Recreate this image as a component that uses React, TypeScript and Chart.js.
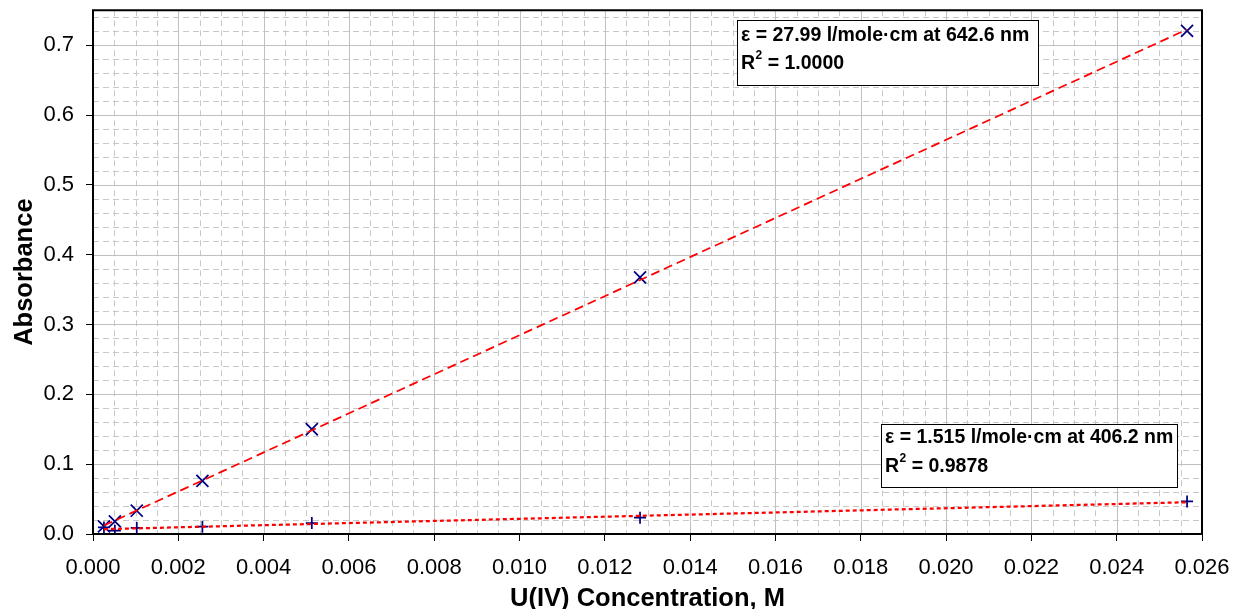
import React, { useEffect, useRef } from "react";
import { Chart, registerables } from "chart.js";

Chart.register(...registerables);

// ---- data ----
const concentrations = [0.0002565, 0.000513, 0.001026, 0.002565, 0.00513, 0.012825, 0.02565];
const absorbance642 = [0.0109, 0.018, 0.0333, 0.0761, 0.15, 0.3676, 0.7204];
const absorbance406 = [0.0094, 0.0047, 0.0086, 0.0104, 0.0157, 0.0233, 0.0466];

const xTitle = "U(IV) Concentration, M";
const yTitle = "Absorbance";
const label642 = "ε = 27.99 l/mole·cm at 642.6 nm";
const r2of642 = " = 1.0000";
const label406 = "ε = 1.515 l/mole·cm at 406.2 nm";
const r2of406 = " = 0.9878";

const FONT = "'Liberation Sans', Arial, sans-serif";

// least-squares trend line (as the spreadsheet's linear trendline)
function trendLine(xs: number[], ys: number[]) {
  const n = xs.length;
  const mx = xs.reduce((a, b) => a + b, 0) / n;
  const my = ys.reduce((a, b) => a + b, 0) / n;
  let sxy = 0;
  let sxx = 0;
  for (let i = 0; i < n; i++) {
    sxy += (xs[i] - mx) * (ys[i] - my);
    sxx += (xs[i] - mx) * (xs[i] - mx);
  }
  const slope = sxy / sxx;
  const icpt = my - slope * mx;
  return [
    { x: xs[0], y: icpt + slope * xs[0] },
    { x: xs[n - 1], y: icpt + slope * xs[n - 1] },
  ];
}

function drawBox(ctx: CanvasRenderingContext2D, left: number, top: number, w: number, h: number, line1: string, r2: string, b1: number, b2: number) {
  ctx.save();
  ctx.fillStyle = "#ffffff";
  ctx.fillRect(left, top, w, h);
  ctx.strokeStyle = "#000000";
  ctx.lineWidth = 1;
  ctx.setLineDash([]);
  ctx.strokeRect(left + 0.5, top + 0.5, w, h);
  ctx.fillStyle = "#000000";
  ctx.textAlign = "left";
  ctx.textBaseline = "alphabetic";
  ctx.font = `bold 19.5px ${FONT}`;
  const tx = left + 4;
  ctx.fillText(line1, tx, b1);
  ctx.fillText("R", tx, b2);
  const rw = ctx.measureText("R").width;
  ctx.font = `bold 12px ${FONT}`;
  ctx.fillText("2", tx + rw + 0.5, b2 - 10);
  const sw = ctx.measureText("2").width;
  ctx.font = `bold 19.5px ${FONT}`;
  ctx.fillText(r2, tx + rw + sw + 0.5, b2);
  ctx.restore();
}

const decorPlugin = {
  id: "decor",
  beforeDatasetsDraw(chart: any) {
    const { ctx, chartArea: ca, scales } = chart;
    const xs = scales.x;
    const ys = scales.y;
    ctx.save();
    ctx.beginPath();
    ctx.rect(ca.left, ca.top, ca.right - ca.left, ca.bottom - ca.top);
    ctx.clip();
    ctx.lineWidth = 1;
    // minor grid
    ctx.strokeStyle = "#c8c8c8";
    ctx.setLineDash([6, 4]);
    ctx.beginPath();
    for (let i = 1; i < 52; i++) {
      if (i % 4 === 0) continue;
      const px = Math.round(xs.getPixelForValue(i * 0.0005)) + 0.5;
      ctx.moveTo(px, ca.top);
      ctx.lineTo(px, ca.bottom);
    }
    for (let j = 1; j <= 37; j++) {
      if (j % 5 === 0) continue;
      const py = Math.round(ys.getPixelForValue(j * 0.02)) + 0.5;
      ctx.moveTo(ca.left, py);
      ctx.lineTo(ca.right, py);
    }
    ctx.stroke();
    // major grid
    ctx.setLineDash([]);
    ctx.strokeStyle = "#c0c0c0";
    ctx.beginPath();
    for (let i = 1; i < 13; i++) {
      const px = Math.round(xs.getPixelForValue(i * 0.002)) + 0.5;
      ctx.moveTo(px, ca.top);
      ctx.lineTo(px, ca.bottom);
    }
    for (let j = 1; j <= 7; j++) {
      const py = Math.round(ys.getPixelForValue(j * 0.1)) + 0.5;
      ctx.moveTo(ca.left, py);
      ctx.lineTo(ca.right, py);
    }
    ctx.stroke();
    ctx.restore();
  },
  afterDatasetsDraw(chart: any) {
    const { ctx, chartArea: ca } = chart;
    drawBox(ctx, 737, 20, 301, 65, label642, r2of642, 41, 69);
    drawBox(ctx, 881, 424, 296, 63, label406, r2of406, 443, 472);
    ctx.save();
    ctx.strokeStyle = "#000000";
    ctx.lineWidth = 2;
    ctx.setLineDash([]);
    ctx.strokeRect(ca.left, ca.top, ca.right - ca.left, ca.bottom - ca.top);
    ctx.restore();
  },
  afterDraw(chart: any) {
    const { ctx, chartArea: ca } = chart;
    ctx.save();
    ctx.fillStyle = "#000000";
    ctx.font = `bold 25.5px ${FONT}`;
    ctx.textAlign = "center";
    ctx.textBaseline = "alphabetic";
    ctx.fillText(xTitle, (ca.left + ca.right) / 2, 606);
    ctx.translate(32, (ca.top + ca.bottom) / 2);
    ctx.rotate(-Math.PI / 2);
    ctx.fillText(yTitle, 0, 0);
    ctx.restore();
  },
};

export default function App() {
  const canvasRef = useRef<HTMLCanvasElement | null>(null);

  useEffect(() => {
    document.body.style.margin = "0";
    const canvas = canvasRef.current;
    if (!canvas) return;
    const pts642 = concentrations.map((c, i) => ({ x: c, y: absorbance642[i] }));
    const pts406 = concentrations.map((c, i) => ({ x: c, y: absorbance406[i] }));
    const chart = new Chart(canvas, {
      type: "scatter",
      data: {
        datasets: [
          {
            label: "Trend 642.6 nm",
            data: trendLine(concentrations, absorbance642),
            showLine: true,
            borderColor: "#ff0000",
            borderWidth: 1.75,
            borderDash: [9, 5],
            pointRadius: 0,
            fill: false,
          },
          {
            label: "Trend 406.2 nm",
            data: trendLine(concentrations, absorbance406),
            showLine: true,
            borderColor: "#ff0000",
            borderWidth: 2.25,
            borderDash: [4, 3],
            pointRadius: 0,
            fill: false,
          },
          {
            label: "642.6 nm",
            data: pts642,
            showLine: false,
            pointStyle: "crossRot",
            pointRadius: 8.5,
            borderColor: "#000080",
            backgroundColor: "#000080",
            pointBorderWidth: 1.75,
          },
          {
            label: "406.2 nm",
            data: pts406,
            showLine: false,
            pointStyle: "cross",
            pointRadius: 6,
            borderColor: "#000080",
            backgroundColor: "#000080",
            pointBorderWidth: 1.75,
          },
        ],
      },
      options: {
        responsive: false,
        animation: false,
        devicePixelRatio: 1,
        layout: { padding: { top: 10, right: 33, left: 0, bottom: 0 } },
        plugins: {
          legend: { display: false },
          tooltip: { enabled: false },
          title: { display: false },
        },
        scales: {
          x: {
            type: "linear",
            min: 0,
            max: 0.026,
            afterFit: (s: any) => {
              s.height = 75;
              s.paddingLeft = 0;
              s.paddingRight = 0;
              s.paddingTop = 0;
              s.paddingBottom = 0;
            },
            border: { display: false },
            grid: {
              display: true,
              drawOnChartArea: false,
              drawTicks: true,
              tickLength: 7,
              tickColor: "#000000",
              tickWidth: 1,
            },
            ticks: {
              stepSize: 0.002,
              autoSkip: false,
              maxRotation: 0,
              padding: 14,
              color: "#000000",
              font: { family: FONT, size: 22 },
              callback: (v: any) => Number(v).toFixed(3),
            },
          },
          y: {
            type: "linear",
            min: 0,
            max: 0.75,
            afterFit: (s: any) => {
              s.width = 93;
              s.paddingLeft = 0;
              s.paddingRight = 0;
              s.paddingTop = 0;
              s.paddingBottom = 0;
            },
            border: { display: false },
            grid: {
              display: true,
              drawOnChartArea: false,
              drawTicks: true,
              tickLength: 7,
              tickColor: "#000000",
              tickWidth: 1,
            },
            ticks: {
              stepSize: 0.1,
              padding: 12,
              color: "#000000",
              font: { family: FONT, size: 22 },
              callback: (v: any) => {
                const n = Number(v);
                if (Math.abs(n * 10 - Math.round(n * 10)) > 1e-6) return null;
                return n.toFixed(1);
              },
            },
          },
        },
      },
      plugins: [decorPlugin],
    });
    return () => chart.destroy();
  }, []);

  return (
    <div style={{ width: 1235, height: 609 }}>
      <canvas ref={canvasRef} width={1235} height={609} style={{ display: "block" }} />
    </div>
  );
}
